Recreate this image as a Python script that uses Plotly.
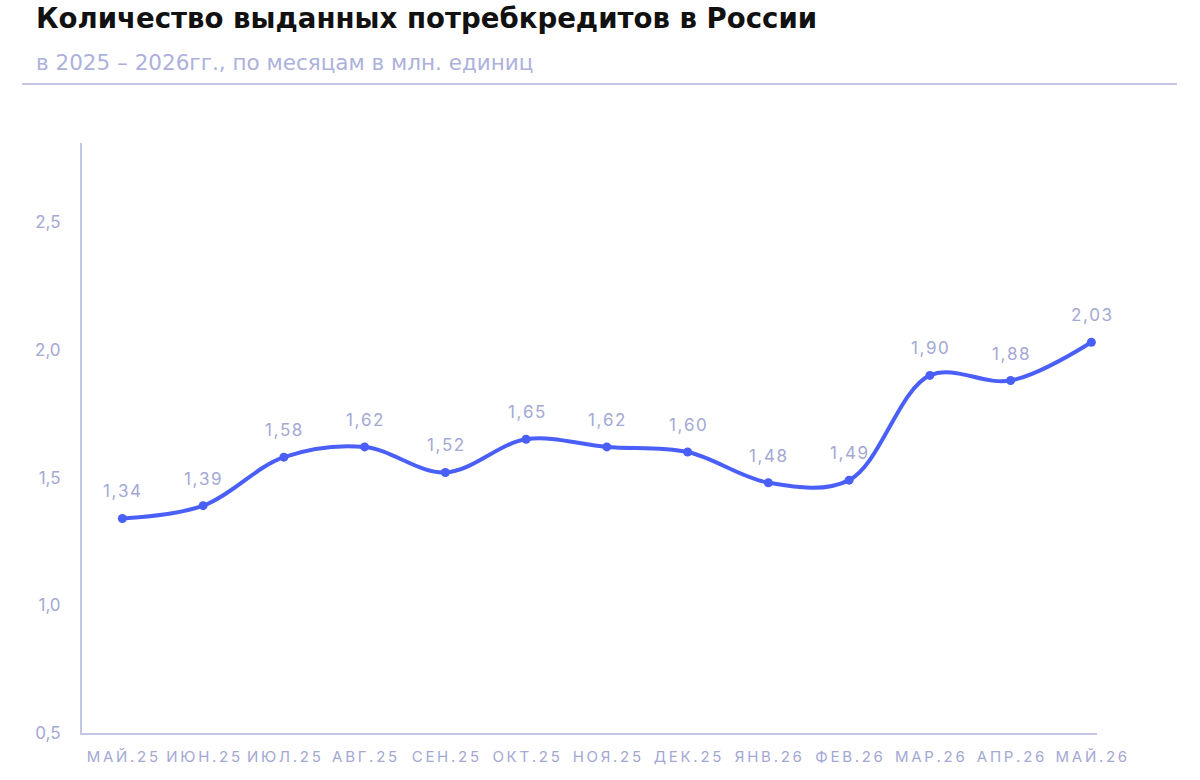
import plotly.graph_objects as go

months = ["МАЙ.25", "ИЮН.25", "ИЮЛ.25", "АВГ.25", "СЕН.25", "ОКТ.25", "НОЯ.25",
          "ДЕК.25", "ЯНВ.26", "ФЕВ.26", "МАР.26", "АПР.26", "МАЙ.26"]
values = [1.34, 1.39, 1.58, 1.62, 1.52, 1.65, 1.62, 1.60, 1.48, 1.49, 1.90, 1.88, 2.03]
labels = [f"{v:.2f}".replace(".", ",") for v in values]
ytick_vals = [0.5, 1.0, 1.5, 2.0, 2.5]
ytick_text = ["0,5", "1,0", "1,5", "2,0", "2,5"]

LINE = "#4a5ff7"
MUTED = "#a3a8d4"
AXIS = "#c3c7e6"
FONT = "Inter, Roboto, sans-serif"


def spaced(s, sep):
    return sep.join(list(s))


fig = go.Figure()
fig.add_trace(go.Scatter(
    x=list(range(len(months))), y=values,
    mode="lines+markers",
    line=dict(color=LINE, width=4, shape="spline", smoothing=1.0),
    marker=dict(color=LINE, size=9),
    cliponaxis=False, showlegend=False, hoverinfo="skip",
))

annotations = []
for i, (v, lab) in enumerate(zip(values, labels)):
    annotations.append(dict(
        x=i, y=v, xref="x", yref="y", text=spaced(lab, "\u200a"),
        showarrow=False, yanchor="middle", xanchor="center", yshift=27,
        font=dict(size=17, color=MUTED, family=FONT),
    ))

annotations += [
    dict(text="<b>Количество выданных потребкредитов в России</b>",
         xref="paper", yref="paper", x=(34 - 82) / 1015, y=(780 - 47 - 19) / 590,
         xanchor="left", yanchor="middle", showarrow=False,
         font=dict(size=27.6, color="#111111", family="DejaVu Sans, sans-serif")),
    dict(text="в 2025 – 2026гг., по месяцам в млн. единиц",
         xref="paper", yref="paper", x=(34 - 82) / 1015, y=(780 - 47 - 62) / 590,
         xanchor="left", yanchor="middle", showarrow=False,
         font=dict(size=21.5, color="#adb1dc", family="DejaVu Sans, sans-serif")),
]

fig.update_layout(
    width=1200, height=780,
    margin=dict(l=82, r=103, t=143, b=47),
    paper_bgcolor="white", plot_bgcolor="white",
    font=dict(family=FONT),
    xaxis=dict(
        range=[-0.5, 12.07], tickmode="array",
        tickvals=list(range(len(months))),
        ticktext=[spaced(m, "\u2009") for m in months],
        showgrid=False, zeroline=False, showline=True, linecolor=AXIS, linewidth=2,
        ticks="", tickfont=dict(size=15, color=MUTED, family=FONT),
        ticklabelstandoff=9,
    ),
    yaxis=dict(
        range=[0.5, 2.81], tickmode="array", tickvals=ytick_vals, ticktext=ytick_text,
        showgrid=False, zeroline=False, showline=True, linecolor=AXIS, linewidth=2,
        ticks="", tickfont=dict(size=17, color=MUTED, family=FONT),
        ticklabelstandoff=16,
    ),
    annotations=annotations,
    shapes=[
        dict(type="line", xref="paper", yref="paper",
             x0=(22 - 82) / 1015, x1=(1177 - 82) / 1015,
             y0=(780 - 47 - 84) / 590, y1=(780 - 47 - 84) / 590,
             line=dict(color=AXIS, width=2)),
    ],
)

fig.write_html("out.html")
